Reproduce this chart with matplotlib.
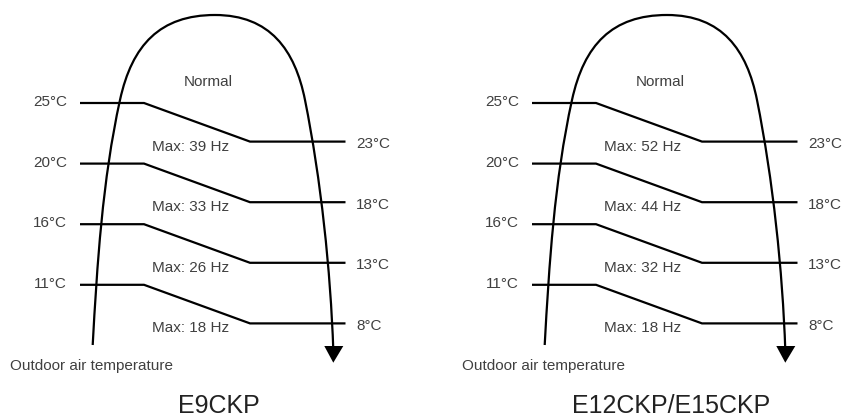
import matplotlib
matplotlib.use("Agg")
import matplotlib.pyplot as plt
from matplotlib.path import Path
from matplotlib.patches import PathPatch, Polygon

# ---- data ----
models = ["E9CKP", "E12CKP/E15CKP"]
upper_temps = ["25°C", "20°C", "16°C", "11°C"]
lower_temps = ["23°C", "18°C", "13°C", "8°C"]
max_hz_e9 = [39, 33, 26, 18]
max_hz_e12 = [52, 44, 32, 18]
max_hz = [max_hz_e9, max_hz_e12]
region_label = "Normal"
axis_label = "Outdoor air temperature"

# ---- layout (pixel coordinates) ----
W, H = 845, 419
panel_dx = [0, 452]
level_y0 = 103.0
level_step = 60.6
drop = 38.6
x_start, x_kink, x_low, x_end = 80, 144, 250, 345.5
txt_color = "#404040"
font = "Liberation Sans"

fig = plt.figure(figsize=(W / 100, H / 100), dpi=100)
ax = fig.add_axes([0, 0, 1, 1])
ax.set_xlim(0, W)
ax.set_ylim(H, 0)
ax.axis("off")


def arch(ox):
    verts = [
        (92.7, 345), (97.1, 265), (102.4, 180), (120, 100),
        (132, 45), (160, 15), (215, 15),
        (270, 15), (295, 50), (305, 100),
        (321, 180), (330.5, 270), (333.3, 350),
    ]
    verts = [(x + ox, y) for x, y in verts]
    codes = [Path.MOVETO] + [Path.CURVE4] * 12
    return Path(verts, codes)


for p, ox in enumerate(panel_dx):
    # arch curve with arrow
    ax.add_patch(PathPatch(arch(ox), fill=False, lw=1.6, color="black",
                           capstyle="butt", joinstyle="round"))
    ax.add_patch(Polygon([(324.3 + ox, 346), (343.3 + ox, 346), (333.3 + ox, 362.7)],
                         closed=True, color="black", lw=0))

    for i, (ut, lt) in enumerate(zip(upper_temps, lower_temps)):
        yu = level_y0 + i * level_step
        yl = yu + drop
        ax.plot([x_start + ox, x_kink + ox, x_low + ox, x_end + ox],
                [yu, yu, yl, yl], color="black", lw=1.6,
                solid_joinstyle="miter", solid_capstyle="butt")
        ax.text(67 + ox, yu + 3, ut, ha="right", va="baseline",
                fontsize=11, family=font, color=txt_color)
        ax.text(356 + ox, yl + 6.3, lt, ha="left", va="baseline",
                fontsize=11, family=font, color=txt_color)
        ax.text(191 + ox, yl + 9, f"Max: {max_hz[p][i]} Hz", ha="center",
                va="baseline", fontsize=11, family=font, color=txt_color)

    ax.text(208 + ox, 86, region_label, ha="center", va="baseline",
            fontsize=11, family=font, color=txt_color)
    ax.text(10 + ox, 369.5, axis_label, ha="left", va="baseline",
            fontsize=11, family=font, color=txt_color)
    ax.text(219 + ox, 413, models[p], ha="center", va="baseline",
            fontsize=18, family=font, color="#222222")

fig.savefig("out.png", dpi=100)
